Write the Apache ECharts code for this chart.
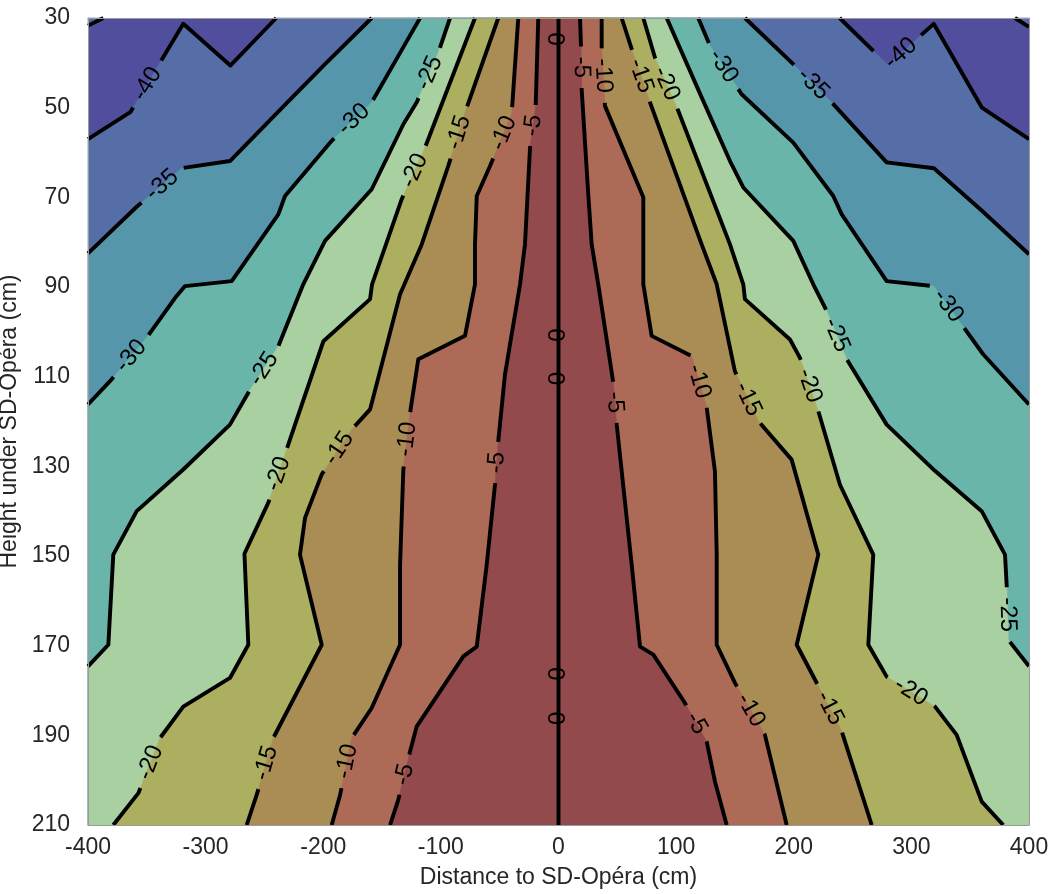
<!DOCTYPE html>
<html>
<head>
<meta charset="utf-8">
<script src="https://cdn.jsdelivr.net/npm/echarts@6/dist/echarts.min.js"></script>
<style>
html,body{margin:0;padding:0;background:#fff;}
#chart{width:1050px;height:894px;}
</style>
</head>
<body>
<div id="chart"></div>
<script>
// ---------- data ----------
const xTicks = [-400, -300, -200, -100, 0, 100, 200, 300, 400];
const yTicks = [30, 50, 70, 90, 110, 130, 150, 170, 190, 210];
const levels = [-40, -35, -30, -25, -20, -15, -10, -5];
const bandColors = ['#524e9e', '#556ea8', '#5596ab', '#6ab5aa', '#a9d0a0', '#acaf60', '#aa8c55', '#ac6a57', '#924a4c'];

// contour polylines [distance, height]
const c40L = [[-400,57],[-364,51],[-319,31.3],[-279,40.6],[-240,30]];
const c40R = [[239,30],[280,40.5],[319,31.3],[360,50],[400,57]];
const c40TL = [[-387,30],[-400,31.7]];
const c40TR = [[400,32],[388,30]];
const c35L = [[-400,82.5],[-358.6,72.1],[-320.3,63.5],[-279.3,61.9],[-233,49.5],[-198.5,40.3],[-158.8,30]];
const c35R = [[158.5,30],[199.6,40.3],[233.6,49.2],[279,62.2],[319.2,63.5],[360,73],[400,82.7]];
const c30L = [[-400,116.2],[-381.3,111],[-350.1,101.3],[-325.9,92.4],[-317.5,89.8],[-277.8,88.7],[-238.2,73.8],[-232.5,69.7],[-192.8,57.4],[-158.8,48.8],[-131.9,36.5],[-117.7,30]];
const c30R = [[118.8,30],[128.8,36.2],[155.7,47],[199.6,57.8],[233.6,69.7],[240.8,73.8],[279,88.7],[319,89.8],[345.6,99.4],[361,105],[400,116.2]];
const c25L = [[-400,174.6],[-382.7,169.8],[-378.5,149.7],[-358.6,140],[-319,130.7],[-279.3,120.7],[-263.7,113.6],[-238.2,103.2],[-217,89.4],[-198.5,79.7],[-158.8,68.2],[-131.9,53.7],[-120.5,48.8],[-102.2,37.7],[-92.2,30]];
const c25R = [[92,30],[121.7,47.7],[145.8,61.9],[157.1,67.8],[199.6,79.7],[216.6,89.4],[226.6,94.6],[245,106.1],[279,120.7],[320,131],[359.8,140],[379.6,149.7],[381,156.4],[382.4,168.7],[400,174.6]];
const c20L = [[-378.5,210],[-357.2,202.9],[-338.8,190.6],[-319,183.6],[-279.3,177.2],[-263.7,169.8],[-267,149.5],[-246.7,138.1],[-231.1,126.2],[-199.9,102.1],[-160.2,92.7],[-158.5,89.4],[-133.3,70.4],[-113.5,58.9],[-71,30]];
const c20R = [[72.1,30],[82,38.8],[101.8,50.7],[145.8,80.5],[157.1,89.4],[158.5,92.7],[196.8,101.7],[205.3,105.8],[220.9,117.7],[239.3,134.1],[267.6,149.7],[263.4,169.8],[279,176.9],[320.1,183.6],[338.5,189.9],[359.8,204.8],[378.1,210]];
const c15L = [[-265.1,210],[-256.6,203.3],[-242.5,190.6],[-201.3,169.8],[-219.8,149.7],[-215.5,141.5],[-201.3,131.8],[-175.8,121.8],[-160.2,117.3],[-134.7,91.6],[-116.3,80.5],[-93.7,63],[-79.5,51.1],[-51.2,30]];
const c15R = [[53.7,30],[62.2,36.9],[77.8,48.8],[121.7,80.5],[134.5,89.4],[150,108.8],[169.9,119.9],[198.2,128.5],[220.9,149.7],[202.5,169.8],[218.1,177.6],[240.8,189.1],[266.3,210]];
const c10L = [[-192.8,210],[-185.7,203.3],[-175.8,190.6],[-158.8,183.9],[-134.7,169.8],[-134.7,151.9],[-131.9,130.7],[-126.2,118.1],[-119.2,106.1],[-79.5,100.9],[-71,89.4],[-71,80.5],[-69.5,69.7],[-58.2,63],[-39.8,51.4],[-34.2,30]];
const c10R = [[36.7,30],[36.7,36.9],[39.5,49.6],[72.1,70],[72.1,89.4],[79.2,100.9],[113.2,105.4],[126,116.9],[133,131.1],[134.5,149.7],[134.5,169.8],[150,178.3],[175.5,189.9],[194,210]];
const c5L = [[-143.2,210],[-136.2,204.4],[-126.2,193.6],[-120.5,188],[-80.9,172.4],[-69.5,170.2],[-61,151.9],[-54,134.1],[-51.2,124.4],[-45.5,109.5],[-32.7,89.4],[-28.5,80.5],[-24.2,58.9],[-19.4,49.6],[-17.2,30]];
const c5R = [[18.3,30],[19.1,36.2],[19.7,45.9],[25.3,69.3],[28.2,80.5],[33.8,89.4],[46.6,111.4],[49.5,120.7],[62.2,151.9],[69.3,170.2],[80.6,172],[107.5,182.8],[126,191.4],[133,200.3],[143,210]];
const zeroLine = [[0,30],[0,210]];

// contour labels
const labelLevel = [-40,-35,-30,-30,-25,-25,-20,-20,-20,-15,-15,-15,-10,-10,-10,-5,-5,-5,
                    -5,-10,-15,-20,-30,-35,-40,-5,-10,-15,-20,-25,-30,-25,-20,-15,-10,-5,
                    0,0,0,0,0];
const labelX = [-347.3,-337.3,-173,-361.4,-107.8,-249.5,-122,-236.7,-345.8,-85.2,-187.2,-248,-48.3,-127.7,-180,-21.4,-49.7,-130.5,
                15.5,35.3,66.5,87.7,138.7,215.2,288.9,45.2,120.3,157.1,212.4,233.6,331.4,378.1,298.8,228,161.3,117.5,
                0,0,0,0,0];
const labelY = [45.1,67.1,52.9,105.8,42.5,108.4,64.1,131.8,196.2,55.5,125.9,196.2,55.5,124,195.8,54,129.2,198.8,
                41,42.9,43.2,45.1,41,45.1,37.3,115.8,111,115.5,112.1,101,94.2,163.1,180.6,184.3,184.7,187.3,
                34.7,100.7,110.4,176.3,186.2];

// ---------- structure ----------
const X_MIN = -400, X_MAX = 400, Y_MIN = 30, Y_MAX = 210;
const regions = [
  [[c40L, c40R], [c40TL], [c40TR]],
  [[c35L, c35R]], [[c30L, c30R]], [[c25L, c25R]], [[c20L, c20R]],
  [[c15L, c15R]], [[c10L, c10R]], [[c5L, c5R]]
];
const contourLines = [
  [c40L,-40],[c40R,-40],[c40TL,-40],[c40TR,-40],[c35L,-35],[c35R,-35],[c30L,-30],[c30R,-30],
  [c25L,-25],[c25R,-25],[c20L,-20],[c20R,-20],[c15L,-15],[c15R,-15],[c10L,-10],[c10R,-10],
  [c5L,-5],[c5R,-5],[zeroLine,0]
];

const FONT = '"Liberation Sans", Arial, Helvetica, sans-serif';
const LABEL_SIZE = 24;
const LINE_W = 3.9;
const GAP_PAD = 10;

const corners = [[X_MIN,Y_MIN],[X_MAX,Y_MIN],[X_MAX,Y_MAX],[X_MIN,Y_MAX]];
const eq = (a,b) => Math.abs(a-b) < 1e-6;
function perim(p){
  const x=p[0], y=p[1];
  if (eq(y,Y_MIN)) return (x-X_MIN)/(X_MAX-X_MIN);
  if (eq(x,X_MAX)) return 1+(y-Y_MIN)/(Y_MAX-Y_MIN);
  if (eq(y,Y_MAX)) return 2+(X_MAX-x)/(X_MAX-X_MIN);
  return 3+(Y_MAX-y)/(Y_MAX-Y_MIN);
}
function walk(a,b){
  const s1=perim(a); let s2=perim(b); if (s2<s1) s2+=4;
  const res=[];
  for (let k=0;k<8;k++) if (k>s1 && k<s2) res.push(corners[k%4]);
  return res;
}
function buildRing(lines){
  let seq = lines;
  if (lines.length===2){
    const L = eq(lines[0][0][1],Y_MIN) ? lines[0].slice().reverse() : lines[0];
    const R = eq(lines[1][lines[1].length-1][1],Y_MIN) ? lines[1].slice().reverse() : lines[1];
    seq=[L,R];
  }
  const pts=[];
  seq.forEach((l,i)=>{
    pts.push(...l);
    const nxt = seq[(i+1)%seq.length];
    pts.push(...walk(l[l.length-1], nxt[0]));
  });
  return pts;
}
function clipPolyline(pts, circles){
  const out=[]; let cur=null;
  for (let i=0;i<pts.length-1;i++){
    const P=pts[i], Q=pts[i+1];
    const dx=Q[0]-P[0], dy=Q[1]-P[1], a=dx*dx+dy*dy;
    const ts=[0,1];
    circles.forEach(c=>{
      const fx=P[0]-c[0], fy=P[1]-c[1];
      const b=2*(fx*dx+fy*dy), cc=fx*fx+fy*fy-c[2]*c[2];
      const disc=b*b-4*a*cc;
      if (a>0 && disc>0){
        const s=Math.sqrt(disc);
        [(-b-s)/(2*a),(-b+s)/(2*a)].forEach(t=>{ if (t>0 && t<1) ts.push(t); });
      }
    });
    ts.sort((u,v)=>u-v);
    for (let k=0;k<ts.length-1;k++){
      const t0=ts[k], t1=ts[k+1];
      if (t1-t0<1e-9) continue;
      const tm=(t0+t1)/2, mx=P[0]+tm*dx, my=P[1]+tm*dy;
      const inside=circles.some(c=>(mx-c[0])**2+(my-c[1])**2<c[2]*c[2]);
      if (inside){ cur=null; continue; }
      const A=[P[0]+t0*dx,P[1]+t0*dy], B=[P[0]+t1*dx,P[1]+t1*dy];
      if (!cur){ cur=[A]; out.push(cur); }
      cur.push(B);
    }
  }
  return out;
}
const mctx = document.createElement('canvas').getContext('2d');
mctx.font = LABEL_SIZE + 'px ' + FONT;

function renderItem(params, api){
  const children=[];
  children.push({type:'polygon', shape:{points:corners.map(p=>api.coord(p))}, style:{fill:bandColors[0]}});
  levels.forEach((lv,k)=>{
    regions[k].forEach(r=>{
      const pts=buildRing(r).map(p=>api.coord(p));
      children.push({type:'polygon', shape:{points:pts}, style:{fill:bandColors[k+1], stroke:bandColors[k+1], lineWidth:0.6}});
    });
  });
  const pxLines = contourLines.map(([pts,lv])=>({lv, px:pts.map(p=>api.coord(p)), circles:[]}));
  const texts=[];
  labelLevel.forEach((lv,j)=>{
    const P=api.coord([labelX[j],labelY[j]]);
    let best=null;
    pxLines.forEach((L,li)=>{
      if (L.lv!==lv) return;
      for (let i=0;i<L.px.length-1;i++){
        const A=L.px[i], B=L.px[i+1];
        const dx=B[0]-A[0], dy=B[1]-A[1], a=dx*dx+dy*dy;
        let t=a>0?((P[0]-A[0])*dx+(P[1]-A[1])*dy)/a:0;
        t=Math.max(0,Math.min(1,t));
        const x=A[0]+t*dx, y=A[1]+t*dy;
        const d=(x-P[0])**2+(y-P[1])**2;
        if (!best || d<best.d) best={d,li,x,y,dx,dy};
      }
    });
    if (!best) return;
    const txt=String(lv);
    const w=mctx.measureText(txt).width;
    let th=Math.atan2(-best.dy,best.dx);
    if (th>Math.PI/2) th-=Math.PI;
    if (th<=-Math.PI/2) th+=Math.PI;
    if (lv!==0) pxLines[best.li].circles.push([best.x,best.y,w/2+GAP_PAD]);
    texts.push({type:'text', x:best.x, y:best.y, rotation:th,
      style:{text:txt, fill:'#000', fontSize:LABEL_SIZE, fontFamily:FONT, align:'center', verticalAlign:'middle'}});
  });
  pxLines.forEach(L=>{
    clipPolyline(L.px, L.circles).forEach(seg=>{
      children.push({type:'polyline', shape:{points:seg}, style:{stroke:'#000', lineWidth:LINE_W, fill:null, lineJoin:'round', lineCap:'butt'}});
    });
  });
  children.push(...texts);
  return {type:'group', children};
}

const axisCommon = {
  type:'value', splitLine:{show:false}, axisTick:{show:false}, z:10,
  axisLine:{show:true, onZero:false, lineStyle:{color:'#9a9a9a', width:1}}
};
const chart = echarts.init(document.getElementById('chart'), null, {renderer:'canvas'});
chart.setOption({
  animation:false,
  backgroundColor:'#ffffff',
  grid:{left:88, right:21, top:18, bottom:69, containLabel:false, outerBoundsMode:'none'},
  xAxis:[
    Object.assign({}, axisCommon, {min:X_MIN, max:X_MAX, interval:100, position:'bottom',
      axisLabel:{customValues:xTicks, showMinLabel:true, showMaxLabel:true, fontSize:23, color:'#262626', fontFamily:FONT, margin:11},
      name:'Distance to SD-Opéra (cm)', nameLocation:'middle', nameGap:41,
      nameTextStyle:{fontSize:23, color:'#262626', fontFamily:FONT}}),
    Object.assign({}, axisCommon, {min:X_MIN, max:X_MAX, position:'top', axisLabel:{show:false}})
  ],
  yAxis:[
    Object.assign({}, axisCommon, {min:Y_MIN, max:Y_MAX, interval:10, inverse:true, position:'left',
      axisLabel:{customValues:yTicks, showMinLabel:true, showMaxLabel:true, fontSize:23, color:'#262626', fontFamily:FONT, margin:18},
      name:'Height under SD-Opéra (cm)', nameLocation:'middle', nameGap:54,
      nameTextStyle:{fontSize:23, color:'#262626', fontFamily:FONT}}),
    Object.assign({}, axisCommon, {min:Y_MIN, max:Y_MAX, inverse:true, position:'right', axisLabel:{show:false}})
  ],
  series:[{
    type:'custom', coordinateSystem:'cartesian2d', xAxisIndex:0, yAxisIndex:0,
    data:[[0,120]], renderItem, silent:true, clip:false, z:2
  }]
});
</script>
</body>
</html>
